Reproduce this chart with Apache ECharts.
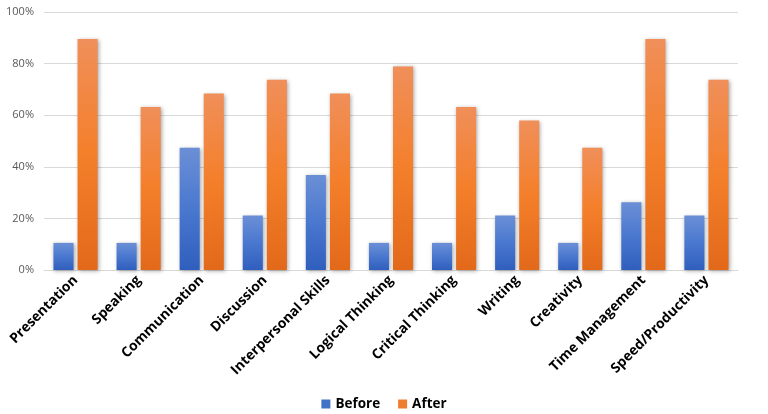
<!DOCTYPE html>
<html><head><meta charset="utf-8">
<script src="https://cdn.jsdelivr.net/npm/echarts@6/dist/echarts.min.js"></script>
<style>html,body{margin:0;padding:0;background:#fff}#c{width:768px;height:414px}</style>
</head><body><div id="c"></div>
<script>
const categories = ["Presentation","Speaking","Communication","Discussion","Interpersonal Skills","Logical Thinking","Critical Thinking","Writing","Creativity","Time Management","Speed/Productivity"];
const before = [10.5,10.5,47.4,21.1,36.8,10.5,10.5,21.1,10.5,26.3,21.1];
const after = [89.5,63.2,68.4,73.7,68.4,78.9,63.2,57.9,47.4,89.5,73.7];
const yTicks = [0,20,40,60,80,100];

const blueGrad = new echarts.graphic.LinearGradient(0,0,0,1,[{offset:0,color:'#6b8fd6'},{offset:0.5,color:'#4a78cf'},{offset:1,color:'#2f5ebd'}]);
const orangeGrad = new echarts.graphic.LinearGradient(0,0,0,1,[{offset:0,color:'#f08f5a'},{offset:0.5,color:'#f47f2a'},{offset:1,color:'#e2691a'}]);

const chart = echarts.init(document.getElementById('c'));
chart.setOption({
  animation:false,
  grid:{left:44,right:30,top:12,bottom:144},
  legend:{bottom:-2,left:'center',itemWidth:9,itemHeight:9,itemGap:18,icon:'rect',
    textStyle:{fontFamily:'Open Sans',fontWeight:'bold',fontSize:13.5,color:'#000'},
    data:[{name:'Before',itemStyle:{color:'#4472c4'}},{name:'After',itemStyle:{color:'#ed7d31'}}]},
  xAxis:{type:'category',data:categories,
    axisLine:{lineStyle:{color:'#d9d9d9'}},axisTick:{show:false},
    axisLabel:{interval:0,rotate:45,fontFamily:'Open Sans',fontWeight:'bold',fontSize:13.8,color:'#000',margin:8}},
  yAxis:{type:'value',min:0,max:100,interval:20,
    axisLabel:{formatter:v=>yTicks.includes(v)?v+'%':'',fontFamily:'Open Sans',fontSize:11,color:'#595959',margin:10},
    splitLine:{lineStyle:{color:'#d9d9d9'}},axisLine:{show:false},axisTick:{show:false}},
  series:[
    {name:'Before',type:'bar',data:before,barGap:'20%',barCategoryGap:'30%',
      itemStyle:{color:blueGrad,shadowColor:'rgba(0,0,0,0.35)',shadowBlur:4,shadowOffsetX:1,shadowOffsetY:1}},
    {name:'After',type:'bar',data:after,
      itemStyle:{color:orangeGrad,shadowColor:'rgba(0,0,0,0.35)',shadowBlur:4,shadowOffsetX:1,shadowOffsetY:1}}
  ]
});
</script></body></html>
